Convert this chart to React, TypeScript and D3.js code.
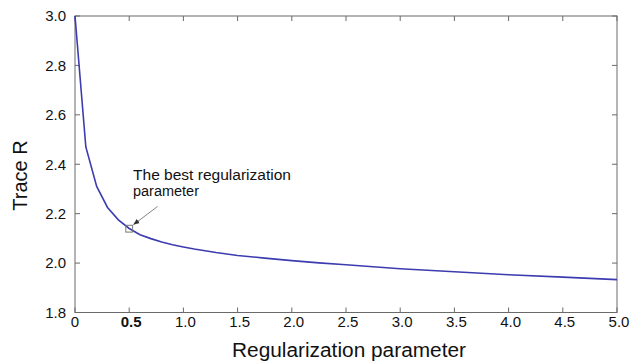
import React from "react";
import * as d3 from "d3";

const xValues = [0, 0.1, 0.2, 0.3, 0.4, 0.5, 0.6, 0.7, 0.8, 0.9, 1.0, 1.1, 1.2, 1.3, 1.4, 1.5, 1.75, 2.0, 2.25, 2.5, 3.0, 3.5, 4.0, 4.5, 5.0];
const traceR = [3.0, 2.47, 2.31, 2.225, 2.175, 2.14, 2.115, 2.099, 2.085, 2.074, 2.065, 2.057, 2.05, 2.043, 2.037, 2.031, 2.02, 2.01, 2.001, 1.993, 1.977, 1.965, 1.953, 1.943, 1.933];
const xTicks = [0, 0.5, 1.0, 1.5, 2.0, 2.5, 3.0, 3.5, 4.0, 4.5, 5.0];
const xTickLabels = ["0", "0.5", "1.0", "1.5", "2.0", "2.5", "3.0", "3.5", "4.0", "4.5", "5.0"];
const yTicks = [1.8, 2.0, 2.2, 2.4, 2.6, 2.8, 3.0];
const bestX = 0.5;
const bestY = 2.14;
const annotationLines = ["The best regularization", "parameter"];

export default function App() {
  const left = 75, right = 617, top = 16, bottom = 312.5;
  const x = d3.scaleLinear().domain([0, 5]).range([left, right]);
  const y = d3.scaleLinear().domain([1.8, 3.0]).range([bottom, top]);
  const line = d3.line<number>().x((_, i) => x(xValues[i])).y((d) => y(d));
  const axisColor = "#6a6a6a";
  const font = "'Liberation Sans', Arial, sans-serif";
  const tl = 5;
  const bx = x(bestX), by = y(bestY);

  return (
    <svg width={630} height={362} style={{ position: "absolute", left: 0, top: 0, background: "#fff" }} fontFamily={font}>
      <defs>
        <marker id="ah" viewBox="0 0 10 10" refX="9" refY="5" markerWidth="7" markerHeight="7" orient="auto">
          <path d="M0,1 L10,5 L0,9 Z" fill="#333" />
        </marker>
      </defs>
      {xTicks.map((t, i) => (
        <g key={"xt" + i}>
          <line x1={x(t)} x2={x(t)} y1={bottom} y2={bottom - tl} stroke={axisColor} />
          <line x1={x(t)} x2={x(t)} y1={top} y2={top + tl} stroke={axisColor} />
          <text x={x(t) + (i === 0 ? 0 : 2)} y={327} fontSize={15} textAnchor="middle" fill="#111" fontWeight={t === 0.5 ? "bold" : "normal"}>
            {xTickLabels[i]}
          </text>
        </g>
      ))}
      {yTicks.map((t, i) => (
        <g key={"yt" + i}>
          <line x1={left} x2={left + tl} y1={y(t)} y2={y(t)} stroke={axisColor} />
          <line x1={right} x2={right - tl} y1={y(t)} y2={y(t)} stroke={axisColor} />
          <text x={66} y={y(t)} dy="0.36em" fontSize={15} textAnchor="end" fill="#111">
            {t.toFixed(1)}
          </text>
        </g>
      ))}
      <rect x={left} y={top} width={right - left} height={bottom - top} fill="none" stroke={axisColor} strokeWidth={1} />
      <path d={line(traceR) || ""} fill="none" stroke="#3c3cb0" strokeWidth={1.6} />
      <rect x={bx - 3.4} y={by - 3.2} width={6.8} height={6.8} fill="none" stroke="#777" strokeWidth={1} />
      <line x1={157.5} y1={206.5} x2={bx + 4.5} y2={by - 4} stroke="#777" strokeWidth={0.9} markerEnd="url(#ah)" />
      <text x={133} y={180} fontSize={15.3} fill="#111" textLength={158} lengthAdjust="spacingAndGlyphs">
        {annotationLines[0]}
      </text>
      <text x={133} y={195.5} fontSize={15.3} fill="#111" textLength={66} lengthAdjust="spacingAndGlyphs">
        {annotationLines[1]}
      </text>
      <text x={232} y={356.5} fontSize={20} fill="#111" textLength={234} lengthAdjust="spacingAndGlyphs">
        Regularization parameter
      </text>
      <text transform={`translate(27,175.5) rotate(-90)`} fontSize={20} textAnchor="middle" fill="#111">
        Trace R
      </text>
    </svg>
  );
}
